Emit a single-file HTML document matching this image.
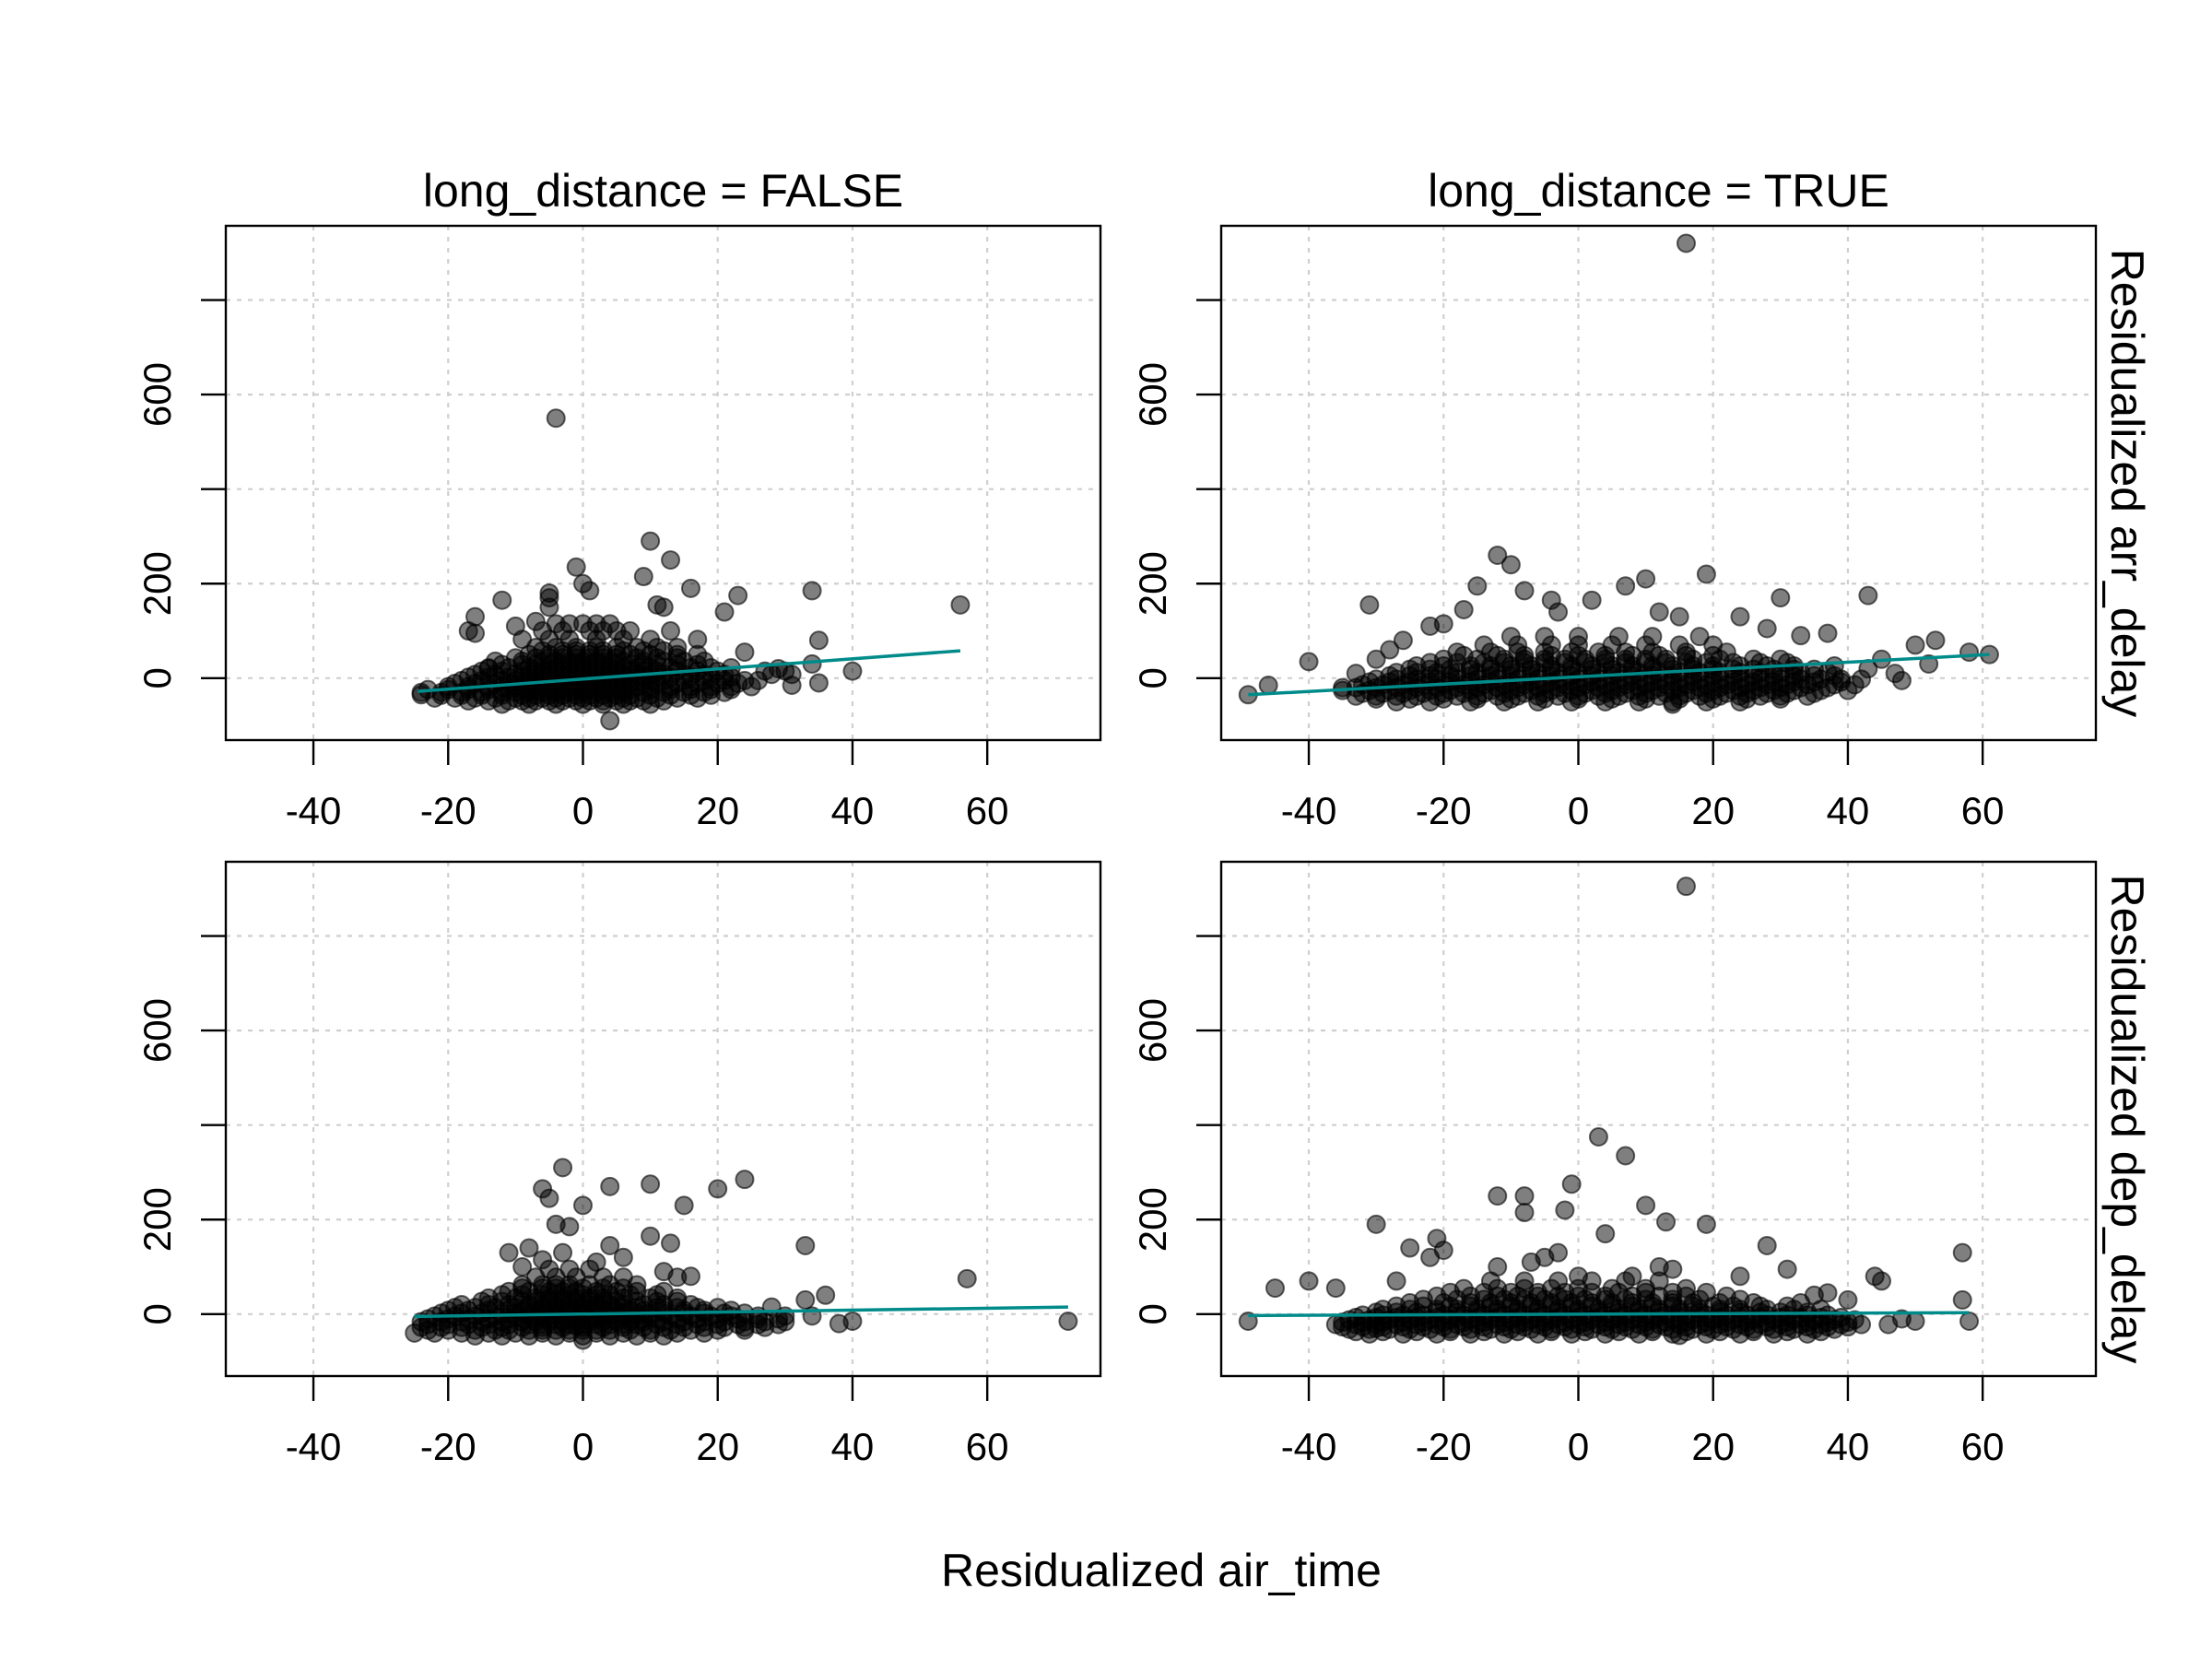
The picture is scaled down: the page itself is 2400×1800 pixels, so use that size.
<!DOCTYPE html>
<html><head><meta charset="utf-8">
<style>
html,body{margin:0;padding:0;background:#fff;}
svg{display:block;font-family:"Liberation Sans",Arial,sans-serif;}
</style></head>
<body>
<svg id="chart" width="2400" height="1800" viewBox="0 0 2400 1800" xmlns="http://www.w3.org/2000/svg">
<rect width="2400" height="1800" fill="#fff"/>
<g id="layer"></g>
</svg>
<script>
// ---- data ----
const xTicks = [-40, -20, 0, 20, 40, 60];
const yTicks = [0, 200, 400, 600, 800];
const yTickLabels = ["0", "200", "", "600", ""];
const colTitles = ["long_distance = FALSE", "long_distance = TRUE"];
const rowTitles = ["Residualized arr_delay", "Residualized dep_delay"];
const xAxisTitle = "Residualized air_time";

// fit lines [x0,x1],[y0,y1]
const tlLineX = [-24.5, 56], tlLineY = [-28, 58];
const trLineX = [-49, 61], trLineY = [-35, 50];
const blLineX = [-25, 72], blLineY = [-5, 15];
const brLineX = [-49, 58], brLineY = [-3, 3];

// outliers [x,y]
const tlOut = [[-4,550],[10,290],[13,250],[-1,235],[9,215],[0,200],[1,185],[16,190],[23,175],[34,185],[56,155],[-12,165],[-16,130],[-17,100],[-16,95],[21,140],[12,150],[11,155],[-5,180],[-5,170],[-5,150],[35,80],[40,15],[4,-90],[34,30],[35,-10],[31,-15],[-24,-35],[-14,20],[-10,110],[-7,120],[24,55],[29,20],[26,-5]];
const trOut = [[16,920],[-12,260],[-10,240],[-15,195],[-8,185],[-4,165],[-3,140],[2,165],[7,195],[10,210],[19,220],[30,170],[43,175],[-31,155],[-40,35],[-46,-15],[-49,-35],[53,80],[50,70],[61,50],[58,55],[45,40],[47,10],[43,20],[48,-5],[52,30],[-26,80],[-22,110],[-20,115],[-17,145],[12,140],[15,130],[24,130],[28,105],[33,90],[37,95],[-35,-20],[-33,10],[-30,40],[-28,60],[14,-55]];
const blOut = [[-3,310],[-6,265],[-5,245],[0,230],[4,270],[10,275],[24,285],[20,265],[15,230],[-2,185],[-4,190],[-11,130],[-3,130],[4,145],[10,165],[13,150],[33,145],[-8,140],[57,75],[72,-15],[40,-15],[38,-20],[36,40],[-25,-40],[0,-55],[-1,-25],[2,110],[6,120],[-9,100],[-6,115],[12,90],[16,80],[28,15],[33,30]];
const brOut = [[16,905],[3,375],[7,335],[-1,275],[10,230],[-12,250],[-8,250],[-8,215],[-2,220],[19,190],[13,195],[4,170],[-30,190],[-25,140],[-22,120],[28,145],[31,95],[44,80],[45,70],[57,130],[-45,55],[-40,70],[-36,55],[-49,-15],[58,-15],[57,30],[50,-15],[48,-10],[-12,100],[-5,120],[-3,130],[8,80],[-21,160],[-20,135],[-27,70],[-7,110],[0,80],[12,100],[14,95],[24,80],[35,40],[37,45],[-30,-30],[15,-45],[40,30]];

// dense cloud rows: [y, [x...]]
const tlRows = [
 [-55,[-12,-8,-4,0,3,6,10]],
 [-48,[-17,-14,-11,-9,-7,-5,-3,-1,1,3,5,7,9,12]],
 [-42,[-22,-19,-16,-13,-10,-8,-6,-4,-2,0,2,4,6,8,11,14,17]],
 [-36,[-21,-18,-15,-12,-9,-7,-5,-3,-1,1,3,5,7,10,13,16,19]],
 [-30,[-24,-21,-18,-15,-12,-10,-8,-6,-4,-2,0,2,4,6,9,12,15,18,21]],
 [-24,[-23,-20,-17,-14,-11,-9,-7,-5,-3,-1,1,3,5,7,10,13,16,19,22]],
 [-18,[-20,-17,-14,-12,-10,-8,-6,-4,-2,0,2,4,6,8,10,13,16,19,22,25]],
 [-11,[-19,-16,-13,-11,-9,-7,-5,-3,-1,1,3,5,7,9,11,14,17,20,23]],
 [-5,[-18,-15,-12,-10,-8,-6,-4,-2,0,2,4,6,8,10,12,15,18,21,24]],
 [2,[-17,-14,-11,-9,-7,-5,-3,-1,1,3,5,7,9,11,13,16,19,22]],
 [8,[-16,-13,-10,-8,-6,-4,-2,0,2,4,6,8,10,12,15,18,21,28,31]],
 [15,[-15,-12,-9,-7,-5,-3,-1,1,3,5,7,9,11,14,17,20,27,30]],
 [22,[-14,-11,-8,-6,-4,-2,0,2,4,6,8,10,13,16,19,22]],
 [29,[-12,-9,-7,-5,-3,-1,1,3,5,7,9,11,14,17]],
 [36,[-13,-9,-6,-4,-2,0,2,4,6,9,12,15,18]],
 [43,[-10,-7,-5,-3,-1,1,3,5,8,11,14]],
 [50,[-8,-5,-3,-1,1,3,5,7,10,14,17]],
 [58,[-6,-3,-1,1,3,6,9,12]],
 [65,[-7,-4,-1,2,5,8,11,14]],
 [82,[-9,-5,-2,2,6,10,17]],
 [100,[-6,-3,1,3,5,7,13]],
 [115,[-4,-2,0,2,4]]
];
const trRows = [
 [-50,[-27,-22,-16,-11,-6,-1,4,9,14,19,24]],
 [-44,[-30,-25,-20,-15,-10,-5,0,5,10,15,20,25,30]],
 [-38,[-33,-30,-27,-24,-21,-18,-15,-12,-9,-6,-3,0,3,6,9,12,15,18,21,24,27,30,34]],
 [-32,[-32,-29,-26,-23,-20,-17,-14,-11,-8,-5,-2,1,4,7,10,13,16,19,22,25,28,31,35]],
 [-26,[-35,-31,-28,-25,-22,-19,-16,-13,-10,-7,-4,-1,2,5,8,11,14,17,20,23,26,29,32,36,40]],
 [-20,[-33,-30,-27,-24,-21,-18,-15,-12,-9,-6,-3,0,3,6,9,12,15,18,21,24,27,30,33,37]],
 [-14,[-32,-29,-26,-23,-20,-17,-14,-11,-8,-5,-2,1,4,7,10,13,16,19,22,25,28,31,34,38,41]],
 [-8,[-31,-28,-25,-22,-19,-16,-13,-10,-7,-4,-1,2,5,8,11,14,17,20,23,26,29,32,35,39]],
 [-2,[-30,-27,-24,-21,-18,-15,-12,-9,-6,-3,0,3,6,9,12,15,18,21,24,27,30,33,36,39,42]],
 [5,[-28,-25,-22,-19,-16,-13,-10,-7,-4,-1,2,5,8,11,14,17,20,23,26,29,32,35,38]],
 [12,[-27,-24,-21,-18,-15,-12,-9,-6,-3,0,3,6,9,12,15,18,21,24,27,30,33,37]],
 [19,[-25,-22,-19,-16,-13,-10,-7,-4,-1,2,5,8,11,14,17,20,23,26,29,32,35]],
 [26,[-24,-20,-16,-13,-10,-7,-4,-1,2,5,8,11,14,17,20,24,28,32,38]],
 [33,[-22,-18,-14,-11,-8,-5,-2,1,4,7,10,13,16,19,23,27,31]],
 [40,[-20,-15,-11,-8,-5,-2,1,4,7,10,13,17,21,26,30]],
 [48,[-17,-12,-8,-4,0,4,8,12,16,20]],
 [55,[-18,-13,-9,-5,-1,3,7,11,16,22]],
 [70,[-14,-9,-4,0,5,10,15,20]],
 [88,[-10,-5,0,6,11,18]]
];
const blRows = [
 [-46,[-16,-12,-8,-4,0,4,8,12]],
 [-40,[-22,-18,-14,-10,-6,-2,2,6,10,14,18]],
 [-34,[-23,-20,-16,-13,-11,-8,-6,-4,-2,0,2,4,7,10,13,16,20,24]],
 [-28,[-24,-21,-18,-15,-12,-9,-6,-3,0,3,6,9,12,15,18,21,24,27]],
 [-22,[-23,-20,-17,-14,-11,-8,-6,-4,-2,0,2,4,6,8,11,14,17,20,23,26,29]],
 [-16,[-24,-21,-18,-15,-12,-9,-7,-5,-3,-1,1,3,5,7,9,12,15,18,21,24,27,30]],
 [-10,[-23,-20,-17,-14,-11,-9,-7,-5,-3,-1,1,3,5,7,9,11,14,17,20,23,26,29]],
 [-4,[-22,-19,-16,-13,-10,-8,-6,-4,-2,0,2,4,6,8,10,13,16,19,22,26,30,34]],
 [2,[-21,-18,-15,-12,-10,-8,-6,-4,-2,0,2,4,6,8,10,12,15,18,21,24]],
 [8,[-20,-17,-14,-11,-9,-7,-5,-3,-1,1,3,5,7,9,12,15,18,22]],
 [14,[-19,-16,-13,-10,-8,-6,-4,-2,0,2,4,6,8,11,14,17,20]],
 [20,[-18,-14,-11,-8,-6,-4,-2,0,2,4,6,9,12,16]],
 [27,[-15,-12,-9,-7,-5,-3,-1,1,3,5,8,11,14]],
 [34,[-14,-10,-7,-5,-3,-1,1,3,6,10,14]],
 [41,[-12,-9,-6,-4,-2,0,2,4,7,11]],
 [48,[-11,-8,-5,-3,-1,2,5,8,12]],
 [55,[-9,-6,-4,-2,0,3,6]],
 [62,[-9,-6,-4,-2,1,4,8]],
 [78,[-7,-4,-1,3,6,14]],
 [95,[-5,-2,1]]
];
const brRows = [
 [-42,[-31,-26,-21,-16,-11,-6,-1,4,9,14,19,24,29,34]],
 [-37,[-33,-29,-24,-19,-14,-9,-4,1,6,11,16,21,26,31,36]],
 [-32,[-34,-31,-28,-25,-22,-19,-16,-13,-10,-7,-4,-1,2,5,8,11,14,17,20,23,26,29,32,35,38]],
 [-27,[-35,-32,-29,-26,-23,-20,-17,-14,-11,-8,-5,-2,1,4,7,10,13,16,19,22,25,28,31,34,37,40]],
 [-22,[-36,-33,-30,-27,-24,-21,-18,-15,-12,-9,-6,-3,0,3,6,9,12,15,18,21,24,27,30,33,36,39,42,46]],
 [-17,[-35,-32,-29,-26,-23,-20,-17,-14,-11,-8,-5,-2,1,4,7,10,13,16,19,22,25,28,31,34,37,40]],
 [-12,[-34,-31,-28,-25,-22,-19,-16,-13,-10,-7,-4,-1,2,5,8,11,14,17,20,23,26,29,32,35,38,41]],
 [-7,[-33,-30,-27,-24,-21,-18,-15,-12,-9,-6,-3,0,3,6,9,12,15,18,21,24,27,30,33,36,39]],
 [-2,[-32,-29,-26,-23,-20,-17,-14,-11,-8,-5,-2,1,4,7,10,13,16,19,22,25,28,31,34,37]],
 [4,[-30,-27,-24,-21,-18,-15,-12,-9,-6,-3,0,3,6,9,12,15,18,21,24,27,30,34]],
 [10,[-29,-25,-21,-18,-15,-12,-9,-6,-3,0,3,6,9,12,15,18,21,24,28,32,36]],
 [17,[-27,-23,-19,-16,-13,-10,-7,-4,-1,2,5,8,11,14,17,20,23,27,31]],
 [24,[-25,-20,-16,-13,-10,-7,-4,-1,2,5,8,11,14,17,21,26,33]],
 [31,[-23,-18,-14,-11,-8,-5,-2,1,4,7,10,14,18,24]],
 [38,[-21,-16,-12,-9,-6,-3,0,4,8,12,16,22]],
 [46,[-19,-14,-10,-6,-2,2,6,10,14,19]],
 [54,[-17,-12,-8,-4,0,5,10,16]],
 [70,[-13,-8,-3,2,7,12]]
];

// ---- layout ----
const NS = "http://www.w3.org/2000/svg";
const layer = document.getElementById("layer");
const PW = 949, PH = 558;
const panelLeft = [245, 1325];
const panelTop = [245, 935];
const xMin = -53, xMax = 76.8;
const yMin = -131, yMax = 957;

function xScale(col, v) { return panelLeft[col] + (v - xMin) / (xMax - xMin) * PW; }
function yScale(row, v) { return panelTop[row] + PH - (v - yMin) / (yMax - yMin) * PH; }

function mk(tag, attrs, parent) {
  const el = document.createElementNS(NS, tag);
  for (const k in attrs) el.setAttribute(k, attrs[k]);
  (parent || layer).appendChild(el);
  return el;
}

const panels = [
  {row:0,col:0,name:"arr-delay-short",out:tlOut,rows:tlRows,lx:tlLineX,ly:tlLineY},
  {row:0,col:1,name:"arr-delay-long",out:trOut,rows:trRows,lx:trLineX,ly:trLineY},
  {row:1,col:0,name:"dep-delay-short",out:blOut,rows:blRows,lx:blLineX,ly:blLineY},
  {row:1,col:1,name:"dep-delay-long",out:brOut,rows:brRows,lx:brLineX,ly:brLineY}
];

panels.forEach(p => {
  const g = mk("g", {});
  
  
  const L = panelLeft[p.col], T = panelTop[p.row];
  const clipId = "clip-" + p.name;
  const cp = mk("clipPath", {id: clipId}, g);
  mk("rect", {x:L, y:T, width:PW, height:PH}, cp);
  xTicks.forEach(t => {
    const x = xScale(p.col, t);
    const gl = mk("line", {x1:x, x2:x, y1:T, y2:T+PH, stroke:"#cfcfcf", "stroke-width":2.2, "stroke-dasharray":"5 7"}, g);
    
    
  });
  yTicks.forEach(t => {
    const y = yScale(p.row, t);
    const gl = mk("line", {x1:L, x2:L+PW, y1:y, y2:y, stroke:"#cfcfcf", "stroke-width":2.2, "stroke-dasharray":"5 7"}, g);
    
    
  });
  const pg = mk("g", {"clip-path":"url(#" + clipId + ")"}, g);
  const pts = [];
  p.rows.forEach(r => r[1].forEach(x => pts.push([x, r[0]])));
  p.out.forEach(o => pts.push(o));
  pts.forEach(pt => {
    const c = mk("circle", {cx:xScale(p.col, pt[0]), cy:yScale(p.row, pt[1]), r:9.5, fill:"rgba(0,0,0,0.5)", stroke:"rgba(0,0,0,0.6)", "stroke-width":2}, pg);
    
    
  });
  const ln = mk("line", {x1:xScale(p.col, p.lx[0]), y1:yScale(p.row, p.ly[0]), x2:xScale(p.col, p.lx[1]), y2:yScale(p.row, p.ly[1]), stroke:"#008b8b", "stroke-width":3.5}, g);
  
  
  const fr = mk("rect", {x:L, y:T, width:PW, height:PH, fill:"none", stroke:"#000", "stroke-width":2.4}, g);
  
  
  xTicks.forEach(t => {
    const x = xScale(p.col, t);
    const tk = mk("line", {x1:x, x2:x, y1:T+PH, y2:T+PH+27, stroke:"#000", "stroke-width":2.4}, g);
    
    
    const tx = mk("text", {x:x, y:T+PH+91, "text-anchor":"middle", "font-size":42}, g);
    tx.textContent = String(t);
    
    
  });
  yTicks.forEach((t, i) => {
    const y = yScale(p.row, t);
    const tk = mk("line", {x1:L-27, x2:L, y1:y, y2:y, stroke:"#000", "stroke-width":2.4}, g);
    
    
    if (yTickLabels[i]) {
      const tx = mk("text", {x:0, y:0, "text-anchor":"middle", "font-size":42, transform:"translate(" + (L-60) + "," + y + ") rotate(-90)"}, g);
      tx.textContent = yTickLabels[i];
      
      
    }
  });
});

colTitles.forEach((t, i) => {
  const tx = mk("text", {x:panelLeft[i] + PW/2, y:224, "text-anchor":"middle", "font-size":50});
  tx.textContent = t;
  
  
});
rowTitles.forEach((t, i) => {
  const cy = panelTop[i] + PH/2;
  const tx = mk("text", {x:0, y:0, "text-anchor":"middle", "font-size":50, transform:"translate(2291," + cy + ") rotate(90)"});
  tx.textContent = t;
  
  
});
const xt = mk("text", {x:1260, y:1721, "text-anchor":"middle", "font-size":50});
xt.textContent = xAxisTitle;


</script>
</body></html>
